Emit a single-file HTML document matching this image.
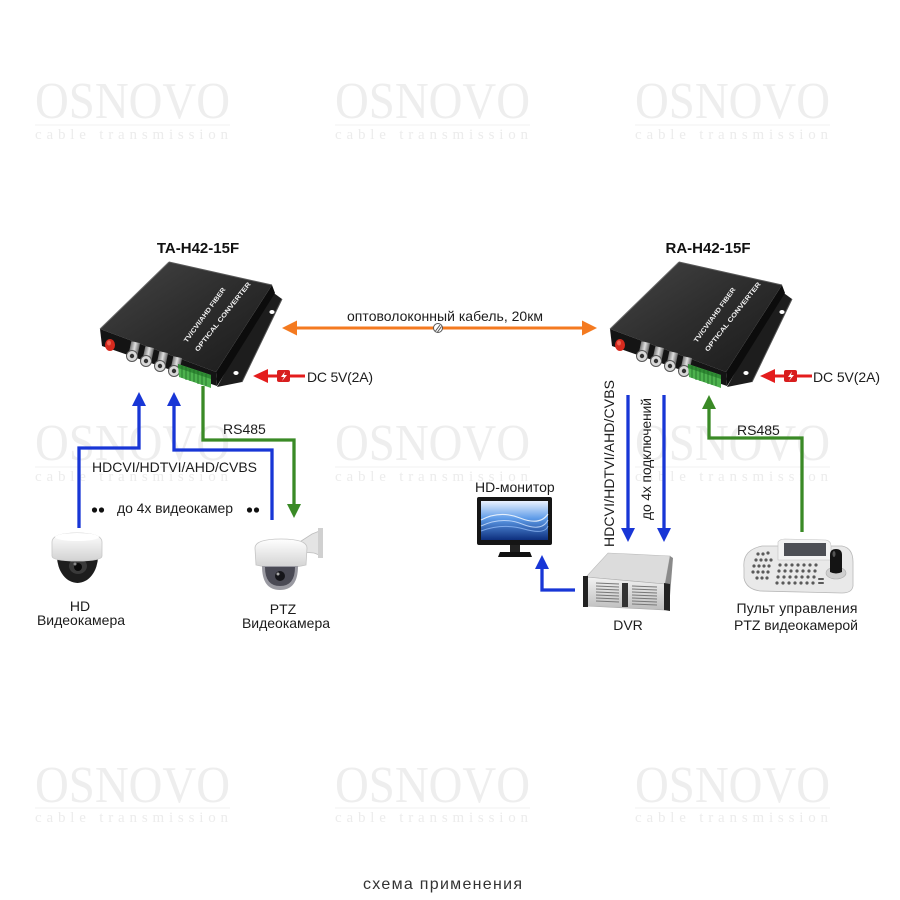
<!DOCTYPE html>
<html><head><meta charset="utf-8">
<style>
html,body{margin:0;padding:0;background:#fff;}
svg{display:block;}
text{font-family:"Liberation Sans",Arial,sans-serif;}
.wm{font-family:"Liberation Serif","Times New Roman",serif;fill:#eeeeee;}
.wc{font-family:"Liberation Serif","Times New Roman",serif;fill:#ececec;}
.t{fill:#1c1c1c;font-size:14px;}
</style></head>
<body>
<svg width="900" height="900" viewBox="0 0 900 900" xmlns="http://www.w3.org/2000/svg">
<defs>
<linearGradient id="topg" x1="0" y1="0" x2="1" y2="1">
<stop offset="0" stop-color="#454545"/><stop offset="0.5" stop-color="#2d2d2d"/><stop offset="1" stop-color="#1a1a1a"/>
</linearGradient>
<linearGradient id="silver" x1="0" y1="0" x2="1" y2="0">
<stop offset="0" stop-color="#777"/><stop offset="0.5" stop-color="#e0e0e0"/><stop offset="1" stop-color="#666"/>
</linearGradient>
<linearGradient id="scr" x1="0" y1="0" x2="0" y2="1">
<stop offset="0" stop-color="#eaf2ff"/><stop offset="0.45" stop-color="#5d9be8"/><stop offset="1" stop-color="#0d2f7e"/>
</linearGradient>
<linearGradient id="white" x1="0" y1="0" x2="0" y2="1">
<stop offset="0" stop-color="#ffffff"/><stop offset="1" stop-color="#d2d2d2"/>
</linearGradient>
<linearGradient id="dvrf" x1="0" y1="0" x2="0" y2="1">
<stop offset="0" stop-color="#f2f2f2"/><stop offset="1" stop-color="#bdbdbd"/>
</linearGradient>
</defs>

<!-- watermarks -->
<g>
<text class="wm" x="35" y="118" font-size="52" textLength="195" lengthAdjust="spacingAndGlyphs">OSNOVO</text>
<line x1="35" y1="125" x2="230" y2="125" stroke="#f0f0f0" stroke-width="1"/>
<text class="wc" x="35" y="139" font-size="15" textLength="193" lengthAdjust="spacing">cable transmission</text>
<text class="wm" x="335" y="118" font-size="52" textLength="195" lengthAdjust="spacingAndGlyphs">OSNOVO</text>
<line x1="335" y1="125" x2="530" y2="125" stroke="#f0f0f0" stroke-width="1"/>
<text class="wc" x="335" y="139" font-size="15" textLength="193" lengthAdjust="spacing">cable transmission</text>
<text class="wm" x="635" y="118" font-size="52" textLength="195" lengthAdjust="spacingAndGlyphs">OSNOVO</text>
<line x1="635" y1="125" x2="830" y2="125" stroke="#f0f0f0" stroke-width="1"/>
<text class="wc" x="635" y="139" font-size="15" textLength="193" lengthAdjust="spacing">cable transmission</text>

<text class="wm" x="35" y="460" font-size="52" textLength="195" lengthAdjust="spacingAndGlyphs">OSNOVO</text>
<line x1="35" y1="467" x2="230" y2="467" stroke="#f0f0f0" stroke-width="1"/>
<text class="wc" x="35" y="481" font-size="15" textLength="193" lengthAdjust="spacing">cable transmission</text>
<text class="wm" x="335" y="460" font-size="52" textLength="195" lengthAdjust="spacingAndGlyphs">OSNOVO</text>
<line x1="335" y1="467" x2="530" y2="467" stroke="#f0f0f0" stroke-width="1"/>
<text class="wc" x="335" y="481" font-size="15" textLength="193" lengthAdjust="spacing">cable transmission</text>
<text class="wm" x="635" y="460" font-size="52" textLength="195" lengthAdjust="spacingAndGlyphs">OSNOVO</text>
<line x1="635" y1="467" x2="830" y2="467" stroke="#f0f0f0" stroke-width="1"/>
<text class="wc" x="635" y="481" font-size="15" textLength="193" lengthAdjust="spacing">cable transmission</text>

<text class="wm" x="35" y="802" font-size="52" textLength="195" lengthAdjust="spacingAndGlyphs">OSNOVO</text>
<line x1="35" y1="808" x2="230" y2="808" stroke="#f0f0f0" stroke-width="1"/>
<text class="wc" x="35" y="822" font-size="15" textLength="193" lengthAdjust="spacing">cable transmission</text>
<text class="wm" x="335" y="802" font-size="52" textLength="195" lengthAdjust="spacingAndGlyphs">OSNOVO</text>
<line x1="335" y1="808" x2="530" y2="808" stroke="#f0f0f0" stroke-width="1"/>
<text class="wc" x="335" y="822" font-size="15" textLength="193" lengthAdjust="spacing">cable transmission</text>
<text class="wm" x="635" y="802" font-size="52" textLength="195" lengthAdjust="spacingAndGlyphs">OSNOVO</text>
<line x1="635" y1="808" x2="830" y2="808" stroke="#f0f0f0" stroke-width="1"/>
<text class="wc" x="635" y="822" font-size="15" textLength="193" lengthAdjust="spacing">cable transmission</text>
</g>

<!-- titles -->
<text x="198" y="253" font-size="15" font-weight="bold" text-anchor="middle" fill="#111">TA-H42-15F</text>
<text x="708" y="253" font-size="15" font-weight="bold" text-anchor="middle" fill="#111">RA-H42-15F</text>

<!-- LEFT CONVERTER -->
<g>
<polygon points="271,291 282,299 242,382 217,387" fill="#1d1d1d"/>
<line x1="282" y1="299" x2="242" y2="382" stroke="#555" stroke-width="1"/>
<ellipse cx="272" cy="312" rx="2.6" ry="2" fill="#fff"/>
<ellipse cx="236" cy="373" rx="2.6" ry="2" fill="#fff"/>
<polygon points="272,285 275,293 217,386 216,372" fill="#0c0c0c"/>
<polygon points="169,262 272,285 216,372 100,329" fill="url(#topg)"/>
<line x1="100" y1="329" x2="169" y2="262" stroke="#6a6a6a" stroke-width="1"/>
<line x1="169" y1="262" x2="272" y2="285" stroke="#5a5a5a" stroke-width="1"/>
<polygon points="100,329 216,372 217,386 102,346" fill="#141414"/>
<text x="187" y="343" font-size="6.5" font-weight="bold" fill="#f2f2f2" transform="rotate(-54 187 343)" textLength="66" lengthAdjust="spacingAndGlyphs">TV/CVI/AHD FIBER</text>
<text x="198" y="352" font-size="6.5" font-weight="bold" fill="#f2f2f2" transform="rotate(-52 198 352)" textLength="86" lengthAdjust="spacingAndGlyphs">OPTICAL  CONVERTER</text>
<ellipse cx="110" cy="345" rx="5" ry="6" fill="#d62a1e"/>
<ellipse cx="109" cy="343" rx="2" ry="2.5" fill="#f06050"/>
<g>
<rect x="130" y="342" width="9" height="12" fill="url(#silver)" transform="rotate(12 134 348)"/>
<circle cx="132" cy="356" r="5.5" fill="#d8d8d8" stroke="#555" stroke-width="1"/><circle cx="132" cy="356" r="2.2" fill="#333"/>
<rect x="144" y="347" width="9" height="12" fill="url(#silver)" transform="rotate(12 148 353)"/>
<circle cx="146" cy="361" r="5.5" fill="#d8d8d8" stroke="#555" stroke-width="1"/><circle cx="146" cy="361" r="2.2" fill="#333"/>
<rect x="158" y="352" width="9" height="12" fill="url(#silver)" transform="rotate(12 162 358)"/>
<circle cx="160" cy="366" r="5.5" fill="#d8d8d8" stroke="#555" stroke-width="1"/><circle cx="160" cy="366" r="2.2" fill="#333"/>
<rect x="172" y="357" width="9" height="12" fill="url(#silver)" transform="rotate(12 176 363)"/>
<circle cx="174" cy="371" r="5.5" fill="#d8d8d8" stroke="#555" stroke-width="1"/><circle cx="174" cy="371" r="2.2" fill="#333"/>
</g>
<polygon points="178,364 211,375 211,388 179,377" fill="#4db24e"/>
<polygon points="178,364 211,375 211,379 178,368" fill="#2f8a33"/>
<g stroke="#1f6b25" stroke-width="0.8">
<line x1="182" y1="366" x2="182" y2="378"/><line x1="186" y1="367" x2="186" y2="380"/><line x1="190" y1="369" x2="190" y2="381"/><line x1="194" y1="370" x2="194" y2="382"/><line x1="198" y1="371" x2="198" y2="384"/><line x1="202" y1="373" x2="202" y2="385"/><line x1="206" y1="374" x2="206" y2="386"/>
</g>
</g>

<!-- RIGHT CONVERTER -->
<g transform="translate(510,0)">
<polygon points="271,291 282,299 242,382 217,387" fill="#1d1d1d"/>
<line x1="282" y1="299" x2="242" y2="382" stroke="#555" stroke-width="1"/>
<ellipse cx="272" cy="312" rx="2.6" ry="2" fill="#fff"/>
<ellipse cx="236" cy="373" rx="2.6" ry="2" fill="#fff"/>
<polygon points="272,285 275,293 217,386 216,372" fill="#0c0c0c"/>
<polygon points="169,262 272,285 216,372 100,329" fill="url(#topg)"/>
<line x1="100" y1="329" x2="169" y2="262" stroke="#6a6a6a" stroke-width="1"/>
<line x1="169" y1="262" x2="272" y2="285" stroke="#5a5a5a" stroke-width="1"/>
<polygon points="100,329 216,372 217,386 102,346" fill="#141414"/>
<text x="187" y="343" font-size="6.5" font-weight="bold" fill="#f2f2f2" transform="rotate(-54 187 343)" textLength="66" lengthAdjust="spacingAndGlyphs">TV/CVI/AHD FIBER</text>
<text x="198" y="352" font-size="6.5" font-weight="bold" fill="#f2f2f2" transform="rotate(-52 198 352)" textLength="86" lengthAdjust="spacingAndGlyphs">OPTICAL  CONVERTER</text>
<ellipse cx="110" cy="345" rx="5" ry="6" fill="#d62a1e"/>
<ellipse cx="109" cy="343" rx="2" ry="2.5" fill="#f06050"/>
<g>
<rect x="130" y="342" width="9" height="12" fill="url(#silver)" transform="rotate(12 134 348)"/>
<circle cx="132" cy="356" r="5.5" fill="#d8d8d8" stroke="#555" stroke-width="1"/><circle cx="132" cy="356" r="2.2" fill="#333"/>
<rect x="144" y="347" width="9" height="12" fill="url(#silver)" transform="rotate(12 148 353)"/>
<circle cx="146" cy="361" r="5.5" fill="#d8d8d8" stroke="#555" stroke-width="1"/><circle cx="146" cy="361" r="2.2" fill="#333"/>
<rect x="158" y="352" width="9" height="12" fill="url(#silver)" transform="rotate(12 162 358)"/>
<circle cx="160" cy="366" r="5.5" fill="#d8d8d8" stroke="#555" stroke-width="1"/><circle cx="160" cy="366" r="2.2" fill="#333"/>
<rect x="172" y="357" width="9" height="12" fill="url(#silver)" transform="rotate(12 176 363)"/>
<circle cx="174" cy="371" r="5.5" fill="#d8d8d8" stroke="#555" stroke-width="1"/><circle cx="174" cy="371" r="2.2" fill="#333"/>
</g>
<polygon points="178,364 211,375 211,388 179,377" fill="#4db24e"/>
<polygon points="178,364 211,375 211,379 178,368" fill="#2f8a33"/>
<g stroke="#1f6b25" stroke-width="0.8">
<line x1="182" y1="366" x2="182" y2="378"/><line x1="186" y1="367" x2="186" y2="380"/><line x1="190" y1="369" x2="190" y2="381"/><line x1="194" y1="370" x2="194" y2="382"/><line x1="198" y1="371" x2="198" y2="384"/><line x1="202" y1="373" x2="202" y2="385"/><line x1="206" y1="374" x2="206" y2="386"/>
</g>
</g>

<!-- fiber arrow -->
<line x1="295" y1="328" x2="584" y2="328" stroke="#f47a20" stroke-width="3"/>
<polygon points="282,328 297,320.5 297,335.5" fill="#f47a20"/>
<polygon points="597,328 582,320.5 582,335.5" fill="#f47a20"/>
<circle cx="438" cy="328" r="4.5" fill="#fff" stroke="#555" stroke-width="1"/>
<line x1="435.5" y1="331" x2="440" y2="325" stroke="#555" stroke-width="1"/>
<line x1="437.5" y1="332" x2="441.5" y2="326.5" stroke="#555" stroke-width="1"/>
<text class="t" x="347" y="321" textLength="196" lengthAdjust="spacing">оптоволоконный кабель, 20км</text>

<!-- DC arrows -->
<g>
<line x1="265" y1="376" x2="305" y2="376" stroke="#e41d1d" stroke-width="3"/>
<polygon points="253,376 268,369 268,383" fill="#e41d1d"/>
<rect x="277" y="370" width="13" height="12" rx="2" fill="#d81e1e"/>
<path d="M285 371.5 L281 377 L284 377 L282 381 L287 375 L284 375 Z" fill="#fff"/>
<text class="t" x="307" y="382" textLength="66" lengthAdjust="spacing">DC 5V(2A)</text>
</g>
<g transform="translate(507,0)">
<line x1="265" y1="376" x2="305" y2="376" stroke="#e41d1d" stroke-width="3"/>
<polygon points="253,376 268,369 268,383" fill="#e41d1d"/>
<rect x="277" y="370" width="13" height="12" rx="2" fill="#d81e1e"/>
<path d="M285 371.5 L281 377 L284 377 L282 381 L287 375 L284 375 Z" fill="#fff"/>
<text class="t" x="306" y="382" textLength="67" lengthAdjust="spacing">DC 5V(2A)</text>
</g>

<!-- left connectors -->
<path d="M79 528 V448 H139 V404" fill="none" stroke="#1836d6" stroke-width="3.3"/>
<polygon points="139,392 132,406 146,406" fill="#1836d6"/>
<path d="M272 520 V450 H174 V404" fill="none" stroke="#1836d6" stroke-width="3.3"/>
<polygon points="174,392 167,406 181,406" fill="#1836d6"/>
<path d="M203 386 V440 H294 V506" fill="none" stroke="#3a8a26" stroke-width="3.3"/>
<polygon points="294,518 287,504 301,504" fill="#3a8a26"/>
<text class="t" x="223" y="434">RS485</text>
<text class="t" x="92" y="472" textLength="165" lengthAdjust="spacing">HDCVI/HDTVI/AHD/CVBS</text>
<circle cx="94.5" cy="510" r="2.6" fill="#111"/><circle cx="101.5" cy="510" r="2.6" fill="#111"/>
<text class="t" x="117" y="513" textLength="116" lengthAdjust="spacing">до 4х видеокамер</text>
<circle cx="249.5" cy="510" r="2.6" fill="#111"/><circle cx="256.5" cy="510" r="2.6" fill="#111"/>

<!-- HD dome camera -->
<g>
<path d="M57 556 A20.5 27 0 0 0 98 556 Z" fill="#1d1d1d"/>
<ellipse cx="78" cy="566" rx="9" ry="8" fill="#3a3a3a"/>
<circle cx="78" cy="567" r="4" fill="#0a0a0a"/>
<circle cx="75" cy="564" r="1.5" fill="#888"/>
<path d="M52 542 Q52 533 77 533 Q102 533 102 542 L102 556 Q102 561 77 561 Q52 561 52 556 Z" fill="url(#white)" stroke="#c8c8c8" stroke-width="0.8"/>
<ellipse cx="77" cy="537" rx="22" ry="4" fill="#fff"/>
</g>
<text class="t" x="80" y="611" text-anchor="middle">HD</text>
<text class="t" x="81" y="625" text-anchor="middle">Видеокамера</text>

<!-- PTZ camera -->
<g>
<path d="M295 545 L312 534 L322 530 L322 556 L314 553 L302 552 Z" fill="#e4e4e4" stroke="#bdbdbd" stroke-width="0.8"/>
<rect x="318" y="528" width="5" height="30" fill="#d0d0d0"/>
<path d="M255 548 Q255 539 281 539 Q307 539 307 548 L306 565 Q281 571 256 565 Z" fill="url(#white)" stroke="#c4c4c4" stroke-width="0.8"/>
<path d="M262 566 Q262 590 280 590 Q298 590 298 566 Z" fill="#9a9aa2"/>
<path d="M265 567 Q265 586 280 586 Q295 586 295 567 Z" fill="#4a4a55"/>
<circle cx="280" cy="576" r="5" fill="#15151a"/>
<circle cx="278" cy="574" r="1.5" fill="#aaa"/>
</g>
<text class="t" x="283" y="614" text-anchor="middle">PTZ</text>
<text class="t" x="286" y="628" text-anchor="middle">Видеокамера</text>

<!-- right side connectors -->
<text class="t" transform="translate(614 547) rotate(-90)" textLength="167" lengthAdjust="spacing">HDCVI/HDTVI/AHD/CVBS</text>
<line x1="628" y1="395" x2="628" y2="530" stroke="#1836d6" stroke-width="3.3"/>
<polygon points="628,542 621,528 635,528" fill="#1836d6"/>
<text class="t" transform="translate(651 520) rotate(-90)" textLength="122" lengthAdjust="spacing">до 4х подключений</text>
<line x1="664" y1="395" x2="664" y2="530" stroke="#1836d6" stroke-width="3.3"/>
<polygon points="664,542 657,528 671,528" fill="#1836d6"/>
<path d="M802 532 V438 H709 V407" fill="none" stroke="#3a8a26" stroke-width="3.3"/>
<polygon points="709,395 702,409 716,409" fill="#3a8a26"/>
<text class="t" x="737" y="435">RS485</text>

<!-- monitor -->
<text class="t" x="475" y="492">HD-монитор</text>
<g>
<rect x="477" y="497" width="75" height="48" rx="2" fill="#151515"/>
<rect x="481" y="501" width="67" height="39" fill="url(#scr)"/>
<path d="M481 520 Q500 510 520 518 T548 514" fill="none" stroke="#fff" stroke-width="1.2" opacity="0.8"/>
<path d="M481 526 Q502 516 522 524 T548 520" fill="none" stroke="#cfe2ff" stroke-width="1" opacity="0.8"/>
<path d="M481 531 Q503 523 524 529 T548 526" fill="none" stroke="#9cc4ff" stroke-width="1" opacity="0.7"/>
<rect x="510" y="545" width="10" height="7" fill="#222"/>
<path d="M500 552 L530 552 L532 557 L498 557 Z" fill="#111"/>
</g>
<path d="M575 590 H542 V567" fill="none" stroke="#1836d6" stroke-width="3.3"/>
<polygon points="542,555 535,569 549,569" fill="#1836d6"/>

<!-- DVR -->
<g>
<polygon points="608,553 670,556 665,584 586,577" fill="#dcdcdc" stroke="#bbb" stroke-width="0.6"/>
<polygon points="670,556 673,558 669,608 665,584" fill="#8a8a8a"/>
<polygon points="586,577 665,584 665,610 586,606" fill="url(#dvrf)" stroke="#aaa" stroke-width="0.6"/>
<rect x="583" y="576" width="5" height="31" fill="#222"/>
<polygon points="664,583 670,584 670,611 664,610" fill="#222"/>
<g stroke="#777" stroke-width="1">
<line x1="596" y1="583" x2="619" y2="584"/><line x1="596" y1="586" x2="619" y2="587"/><line x1="596" y1="589" x2="619" y2="590"/><line x1="596" y1="592" x2="619" y2="593"/><line x1="596" y1="595" x2="619" y2="596"/><line x1="596" y1="598" x2="619" y2="599"/><line x1="596" y1="601" x2="619" y2="602"/>
<line x1="632" y1="586" x2="657" y2="587"/><line x1="632" y1="589" x2="657" y2="590"/><line x1="632" y1="592" x2="657" y2="593"/><line x1="632" y1="595" x2="657" y2="596"/><line x1="632" y1="598" x2="657" y2="599"/><line x1="632" y1="601" x2="657" y2="602"/><line x1="632" y1="604" x2="657" y2="605"/>
</g>
<rect x="622" y="583" width="6" height="24" fill="#333"/>
</g>
<text class="t" x="628" y="630" text-anchor="middle">DVR</text>

<!-- keyboard -->
<g>
<path d="M744 568 Q742 550 762 546 L842 546 Q853 548 853 562 L853 586 Q852 593 842 593 L760 591 Q746 589 744 578 Z" fill="#e9e9e9" stroke="#b8b8b8" stroke-width="0.8"/>
<path d="M778 542 Q780 539 785 539 L826 540 Q831 541 831 546 L831 560 L778 560 Z" fill="#f3f3f3" stroke="#c0c0c0" stroke-width="0.6"/>
<rect x="784" y="543" width="42" height="13" fill="#4d4f55"/>
<g fill="#5a5a5a">
<circle cx="758" cy="554" r="1.6"/><circle cx="763" cy="554" r="1.6"/><circle cx="768" cy="553" r="1.6"/>
<circle cx="756" cy="560" r="1.6"/><circle cx="761" cy="560" r="1.6"/><circle cx="766" cy="560" r="1.6"/><circle cx="771" cy="560" r="1.6"/>
<circle cx="754" cy="566" r="1.6"/><circle cx="759" cy="566" r="1.6"/><circle cx="764" cy="566" r="1.6"/><circle cx="769" cy="566" r="1.6"/>
<circle cx="753" cy="572" r="1.6"/><circle cx="758" cy="572" r="1.6"/><circle cx="763" cy="572" r="1.6"/><circle cx="768" cy="572" r="1.6"/>
<circle cx="757" cy="578" r="1.6"/><circle cx="762" cy="578" r="1.6"/><circle cx="767" cy="578" r="1.6"/>
<circle cx="780" cy="565" r="1.6"/><circle cx="786" cy="565" r="1.6"/><circle cx="792" cy="565" r="1.6"/><circle cx="798" cy="565" r="1.6"/><circle cx="804" cy="565" r="1.6"/><circle cx="810" cy="565" r="1.6"/><circle cx="816" cy="565" r="1.6"/>
<circle cx="779" cy="571" r="1.6"/><circle cx="785" cy="571" r="1.6"/><circle cx="791" cy="571" r="1.6"/><circle cx="797" cy="571" r="1.6"/><circle cx="803" cy="571" r="1.6"/><circle cx="809" cy="571" r="1.6"/><circle cx="815" cy="571" r="1.6"/>
<circle cx="778" cy="577" r="1.6"/><circle cx="784" cy="577" r="1.6"/><circle cx="790" cy="577" r="1.6"/><circle cx="796" cy="577" r="1.6"/><circle cx="802" cy="577" r="1.6"/><circle cx="808" cy="577" r="1.6"/><circle cx="814" cy="577" r="1.6"/>
<circle cx="777" cy="583" r="1.6"/><circle cx="783" cy="583" r="1.6"/><circle cx="789" cy="583" r="1.6"/><circle cx="795" cy="583" r="1.6"/><circle cx="801" cy="583" r="1.6"/><circle cx="807" cy="583" r="1.6"/><circle cx="813" cy="583" r="1.6"/>
<rect x="818" y="578" width="6" height="2" rx="1"/><rect x="818" y="582" width="6" height="2" rx="1"/>
</g>
<ellipse cx="836" cy="573" rx="10" ry="6" fill="#cfcfcf" stroke="#aaa" stroke-width="0.6"/>
<path d="M830 572 L830 555 Q830 549 836 549 Q842 549 842 555 L842 572 Q836 575 830 572 Z" fill="#141414"/>
<ellipse cx="834" cy="554" rx="1.5" ry="3" fill="#555"/>
</g>
<text class="t" x="797" y="613" text-anchor="middle" textLength="121" lengthAdjust="spacing">Пульт управления</text>
<text class="t" x="796" y="630" text-anchor="middle" textLength="124" lengthAdjust="spacing">PTZ видеокамерой</text>

<!-- caption -->
<text x="363" y="889" font-size="16" fill="#333" textLength="159" lengthAdjust="spacing">схема применения</text>
</svg>
</body></html>
